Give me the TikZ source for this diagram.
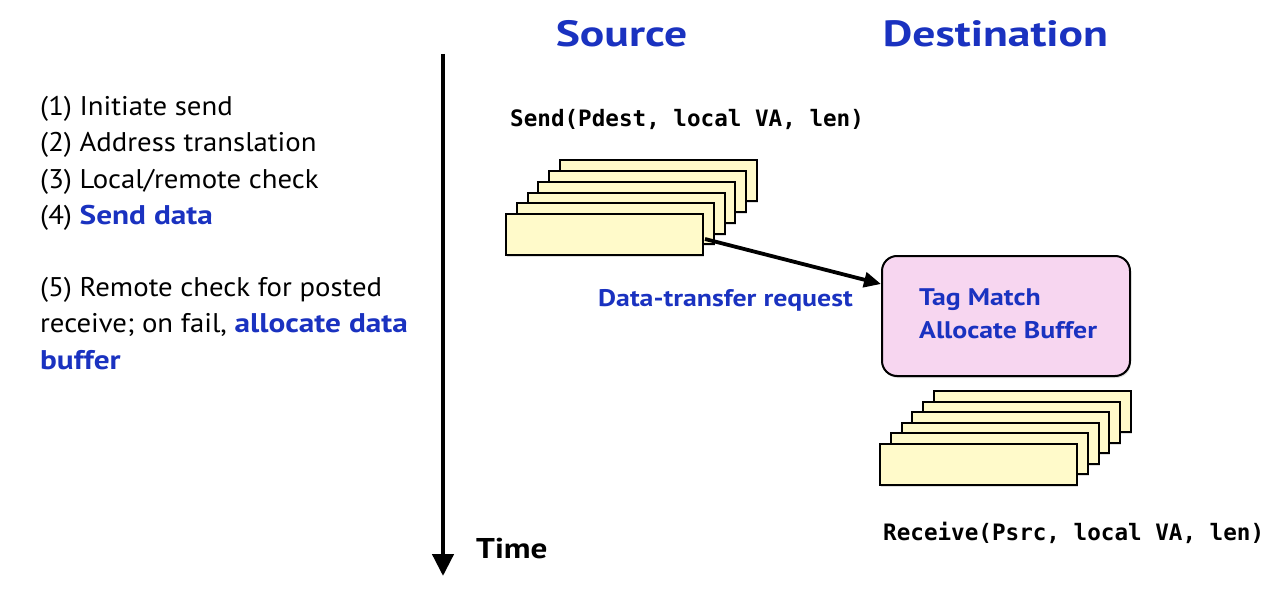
\documentclass[tikz,border=0pt]{standalone}
\usepackage{fontspec}
\setmainfont{PT Sans}[FakeStretch=1.065]
\newfontfamily\boldwide{PT Sans}[FakeStretch=1.16]
\newfontfamily\titlewide{PT Sans}[FakeStretch=1.25]
\setmonofont{DejaVu Sans Mono}
\usetikzlibrary{arrows.meta,shadows}
\definecolor{tblue}{RGB}{26,50,192}
\definecolor{cardyellow}{RGB}{255,250,202}
\definecolor{tagpink}{RGB}{247,214,240}
\newcommand{\hlb}[1]{\textcolor{tblue}{\boldwide\bfseries #1}}
\begin{document}
\begin{tikzpicture}[x=1pt,y=-1pt,
  card/.style={draw=black, line width=2pt, fill=cardyellow, minimum width=197pt,
    minimum height=41pt, inner sep=0pt, anchor=north west,
    drop shadow={opacity=0.25, shadow xshift=1pt, shadow yshift=-2pt}},
  steptext/.style={anchor=base west, inner sep=0pt, font=\fontsize{27}{32}\selectfont},
  title/.style={anchor=base, inner sep=0pt, text=tblue, font=\fontsize{36.5}{44}\selectfont\titlewide\bfseries},
  tagline/.style={anchor=base west, inner sep=0pt, text=tblue, font=\fontsize{24}{30}\selectfont\boldwide\bfseries},
  code/.style={anchor=base west, inner sep=0pt, font=\fontsize{22.6}{26}\selectfont\ttfamily\bfseries}]
\useasboundingbox (0,0) rectangle (1274,596);

% titles
\node[title] (src) at (621.5,47) {Source};
\node[title] (dst) at (995.5,47) {Destination};

% left steps
\node[steptext] (l1) at (40,115.5) {(1) Initiate send};
\node[steptext] (l2) at (40,152) {(2) Address translation};
\node[steptext] (l3) at (40,188.5) {(3) Local/remote check};
\node[steptext] (l4) at (40,225) {(4) \hlb{Send data}};
\node[steptext] (l5) at (40,296) {(5) Remote check for posted};
\node[steptext] (l6) at (40,332.5) {receive; on fail, \hlb{allocate data}};
\node[steptext] (l7) at (40,369) {\hlb{buffer}};

% time axis
\coordinate (ttop) at (443,54);
\coordinate (tbot) at (443,576);
\draw[line width=4.5pt, -{Triangle[length=22pt,width=21pt]}] (ttop) -- (tbot);
\node[anchor=base west, inner sep=0pt, font=\fontsize{28.6}{32}\selectfont\boldwide\bfseries] (time) at (476,558) {Time};

% send call
\node[code] (send) at (510,127) {Send(Pdest, local VA, len)};
\foreach \i in {5,4,3,2,1,0}
  \node[card] (s\i) at ({505+10.8*\i},{213-10.7*\i}) {};

% tag match box
\node[draw=black, line width=2pt, fill=tagpink, rounded corners=15pt, anchor=north west,
  minimum width=248pt, minimum height=120pt, inner sep=0pt,
  drop shadow={opacity=0.25, shadow xshift=1pt, shadow yshift=-2pt}] (tag) at (881,255) {};
\node[tagline] (tag1) at (919,305) {Tag Match};
\node[tagline] (tag2) at (919,338) {Allocate Buffer};

% transfer arrow
\draw[line width=3.8pt, -{Triangle[length=17pt,width=15pt]}]
  ([shift={(1,4.5)}]s0.east) -- ([shift={(0,-32)}]tag.west);
\node[anchor=base, inner sep=0pt, text=tblue, font=\fontsize{24}{28}\selectfont\boldwide\bfseries]
  (req) at (725.5,306.5) {Data-transfer request};

% destination stack
\foreach \i in {5,4,3,2,1,0}
  \node[card] (d\i) at ({879+10.8*\i},{443-10.6*\i}) {};
\node[code] (recv) at (883,540) {Receive(Psrc, local VA, len)};
\end{tikzpicture}
\end{document}
